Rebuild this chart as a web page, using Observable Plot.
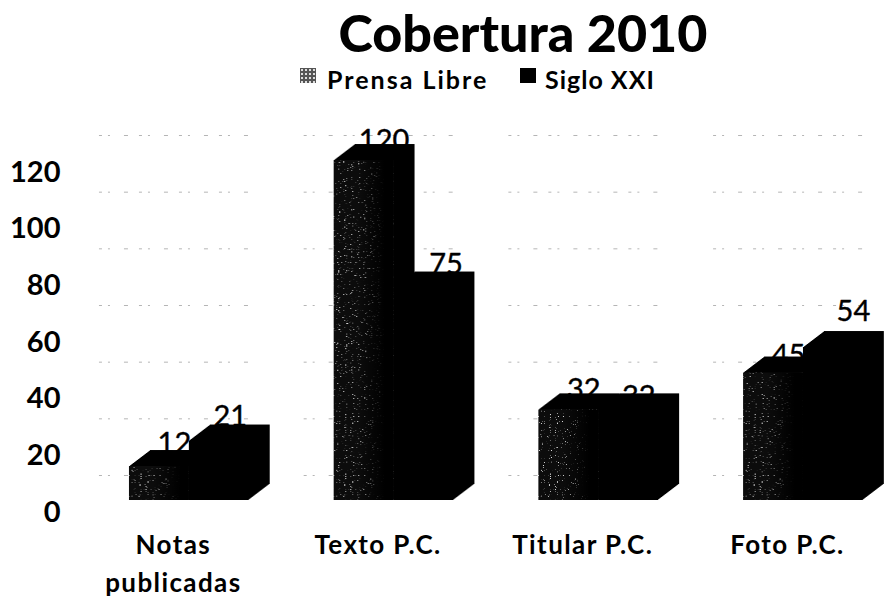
<!DOCTYPE html>
<html><head><meta charset="utf-8">
<script src="https://cdn.jsdelivr.net/npm/d3@7"></script>
<script src="https://cdn.jsdelivr.net/npm/@observablehq/plot@0.6"></script>
<style>
html,body{margin:0;padding:0;background:#fff;color:#000;font-family:Lato,sans-serif;overflow:hidden}
#wrap{position:relative;width:892px;height:599px}
#title{position:absolute;left:154px;right:0;top:3px;text-align:center;font-size:52px;font-weight:900;line-height:58px;white-space:nowrap}
#legend{position:absolute;top:64px;left:0;height:30px;width:892px;font-size:25px;font-weight:700;line-height:30px}
#legend span{position:absolute;white-space:nowrap}
#legend i{position:absolute;top:4px;width:16px;height:15px;background:#000}
#legend i.p{background:#555;background-image:radial-gradient(#ddd 1px,transparent 1px);background-size:4px 4px}
#chart{position:absolute;left:0;top:100px}
</style></head><body>
<div id="wrap">
<div id="title">Cobertura 2010</div>
<div id="legend"><i class="p" style="left:300px"></i><span style="left:327px;letter-spacing:2px">Prensa Libre</span><i style="left:520px"></i><span style="left:545px;letter-spacing:1px">Siglo XXI</span></div>
<div id="chart"></div>
</div>
<script>
const categories = ["Notas publicadas", "Texto P.C.", "Titular P.C.", "Foto P.C."];
const seriesNames = ["Prensa Libre", "Siglo XXI"];
const prensaLibre = [12, 120, 32, 45];
const sigloXXI = [21, 75, 32, 54];
const yTicks = [0, 20, 40, 60, 80, 100, 120];

const rows = categories.flatMap((c, i) => [
  {category: c, series: seriesNames[0], value: prensaLibre[i]},
  {category: c, series: seriesNames[1], value: sigloXXI[i]}
]);
const prensaRows = rows.filter(d => d.series === seriesNames[0]);
const sigloRows = rows.filter(d => d.series === seriesNames[1]);

const depth = 21;
const extrusion = d3.range(depth, 0, -1).map(k =>
  Plot.barY(rows, {fx: "category", x: "series", y: "value", fill: "#000", dx: k, dy: -k * 0.76})
);
const label = (keep, dx, dy) => Plot.text(rows.filter(keep), {
  fx: "category", x: "series", y: "value", text: "value", dx, dy,
  fontSize: 29, fontFamily: "Lato, sans-serif", fill: "#000", stroke: "#000", strokeWidth: 0.4, textAnchor: "middle"
});
const isCat = (i, s) => d => d.category === categories[i] && d.series === seriesNames[s];

const chart = Plot.plot({
  width: 892, height: 499,
  marginLeft: 104.4, marginRight: 4.6, marginTop: 60, marginBottom: 99,
  style: {background: "transparent", overflow: "visible"},
  fx: {domain: categories, paddingInner: 0.415, paddingOuter: 0.12, label: null, round: false},
  x: {domain: seriesNames, padding: 0, axis: null, label: null, round: false},
  y: {domain: [0, 120], label: null},
  marks: [
    Plot.ruleY(yTicks, {y: d => d, dy: -25, stroke: "#b5b5b5", strokeDasharray: "3 6 2 14 4 11", strokeWidth: 1, insetLeft: -30}),
    ...extrusion,
    Plot.barY(sigloRows, {fx: "category", x: "series", y: "value", fill: "#000"}),
    Plot.barY(prensaRows, {fx: "category", x: "series", y: "value", fill: "url(#speckle)"}),
    Plot.barY(prensaRows, {fx: "category", x: "series", y: "value", fill: "url(#fade)"}),
    label(isCat(0, 0), 15, -23),
    label(isCat(0, 1), 11, -24),
    label(isCat(1, 0), 20, -20),
    label(isCat(1, 1), 22, -23),
    label(isCat(2, 0), 15, -20),
    label(isCat(2, 1), 10, -13),
    label(isCat(3, 0), 15, -17),
    label(isCat(3, 1), 20, -36),
    Plot.axisY({ticks: yTicks, anchor: "left", tickSize: 0, tickPadding: 0, dx: -69, dy: 12, fontSize: 29, fontWeight: 700, fontFamily: "Lato, sans-serif", label: null}),
    Plot.axisFx({anchor: "bottom", tickSize: 0, tickPadding: 27, dx: -16, fontSize: 26, fontWeight: 700, fontFamily: "Lato, sans-serif", lineHeight: 1.45, label: null,
      tickFormat: d => d.replace(" publicadas", "\npublicadas")})
  ]
});
d3.select(chart).selectAll('[aria-label="fx-axis tick label"] text').style("letter-spacing", "1.4px");

// Texture of the scanned Prensa Libre front face
const defs = d3.select(chart).append("defs");
const noise = defs.append("filter").attr("id", "noise").attr("x", 0).attr("y", 0).attr("width", 1).attr("height", 1);
noise.append("feTurbulence").attr("type", "fractalNoise").attr("baseFrequency", 0.85).attr("numOctaves", 2).attr("seed", 4);
noise.append("feColorMatrix").attr("type", "matrix").attr("values", "0 0 0 0 0.7  0 0 0 0 0.7  0 0 0 0 0.7  9 0 0 0 -6.0");
const pat = defs.append("pattern").attr("id", "speckle").attr("patternUnits", "userSpaceOnUse").attr("width", 240).attr("height", 360);
pat.append("rect").attr("width", 240).attr("height", 360).attr("fill", "#0c0c0c");
pat.append("rect").attr("width", 240).attr("height", 360).attr("filter", "url(#noise)");
const grad = defs.append("linearGradient").attr("id", "fade").attr("x1", 0).attr("x2", 1).attr("y1", 0).attr("y2", 0);
grad.append("stop").attr("offset", "0.4").attr("stop-color", "#000").attr("stop-opacity", 0);
grad.append("stop").attr("offset", "0.85").attr("stop-color", "#000").attr("stop-opacity", 1);
document.getElementById("chart").append(chart);
</script>
</body></html>
